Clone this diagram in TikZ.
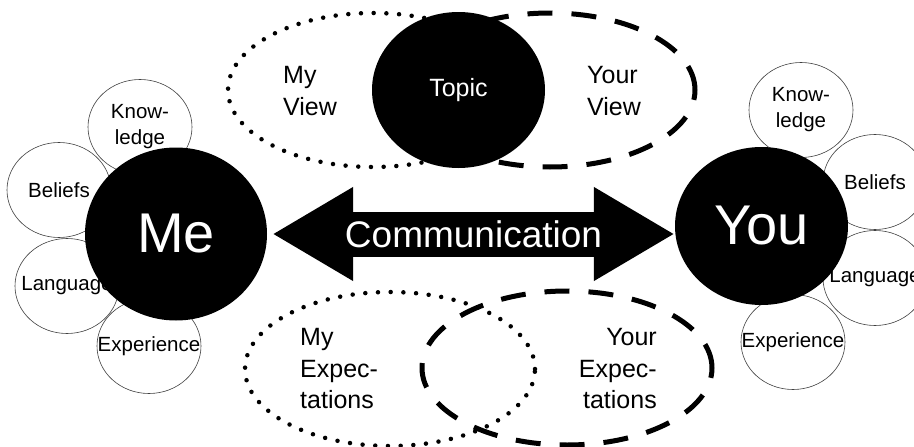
\documentclass[tikz,border=0pt]{standalone}
\usepackage{fontspec}
\setmainfont{Liberation Sans}
\usetikzlibrary{shapes.geometric,arrows.meta}

\tikzset{
  petal/.style={ellipse, draw=black!75, line width=0.6pt, fill=white,
    minimum width=104pt, minimum height=95pt, inner sep=0pt},
  petaltext/.style={font=\fontsize{20.5}{26}\selectfont, align=center, inner sep=0pt},
  person/.style={ellipse, fill=black, text=white, inner sep=0pt,
    font=\fontsize{56}{60}\selectfont},
  dotring/.style={ellipse, draw, line width=4.5pt, dash pattern=on 0pt off 12.7pt,
    line cap=round, minimum width=290pt, minimum height=154pt, inner sep=0pt},
  dashring/.style={ellipse, draw, line width=5pt, dash pattern=on 25pt off 19pt,
    minimum width=290pt, minimum height=154pt, inner sep=0pt},
  ringtext/.style={font=\fontsize{25}{31.5}\selectfont, inner sep=0pt},
  commtext/.style={text=white, font=\fontsize{37}{40}\selectfont, inner sep=0pt},
}

\begin{document}
\begin{tikzpicture}[x=1pt,y=-1pt]
\useasboundingbox (0,0) rectangle (914,447);
% views on the topic
\node[dotring] (myview) at (373,90) {};
\node[dashring] (yourview) at (550,90) {};
\node[person, minimum width=173pt, minimum height=156pt,
  font=\fontsize{25}{30}\selectfont] (topic) at (458.5,90) {Topic};
\node[ringtext, anchor=west, align=left] (myviewtxt) at (283,91) {My\\View};
\node[ringtext, anchor=west, align=left] (yourviewtxt) at (587,91) {Your\\View};
% expectations
\node[dotring] (myexp) at (390,369) {};
\node[dashring] (yourexp) at (567,368) {};
\node[ringtext, anchor=west, align=left] (myexptxt) at (300,369) {My\\Expec-\\tations};
\node[ringtext, anchor=east, align=right] (yourexptxt) at (657,369) {Your\\Expec-\\tations};
% me
\node[petal, label={[petaltext]center:Know-\\ledge}] (lknow) at (140,127) {};
\node[petal, label={[petaltext]center:Beliefs}] (lbel) at (59,190) {};
\node[petal, label={[petaltext]center:Language}] (llang) at (67,286) {};
\node[petal, label={[petaltext]center:Experience}] (lexp) at (149,346) {};
\node[person, minimum width=182pt, minimum height=173pt] (me) at (176,234) {Me};
% you
\node[petal, label={[petaltext]center:Know-\\ledge}] (rknow) at (801,110) {};
\node[petal, label={[petaltext]center:Beliefs}] (rbel) at (875,182) {};
\node[petal, label={[petaltext]center:Language}] (rlang) at (875,278) {};
\node[petal, label={[petaltext]center:Experience}] (rexp) at (793,342) {};
\node[person, minimum width=173pt, minimum height=158pt] (you) at (761.5,226) {You};
% communication arrow
\coordinate (commL) at ([xshift=5pt]me.east);
\coordinate (commR) at (commL -| you.west);
\draw[line width=45pt, {Triangle[length=81pt,width=88pt]}-{Triangle[length=81pt,width=88pt]}]
  (commL) -- node[commtext] (comm) {Communication} (commR);
\end{tikzpicture}
\end{document}
